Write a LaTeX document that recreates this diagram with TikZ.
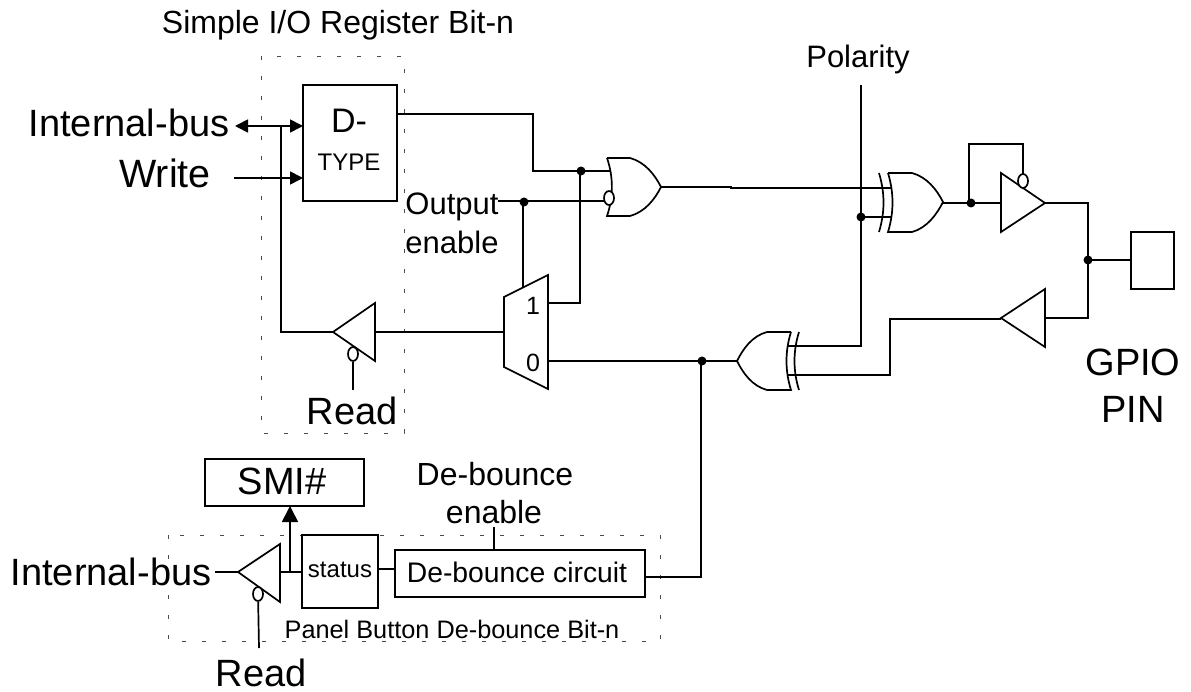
\documentclass[tikz,border=0pt]{standalone}
\usepackage{fontspec}
\setmainfont{Liberation Sans}
\usetikzlibrary{arrows.meta,shapes.geometric}
\tikzset{
 x=1pt,y=-1pt,
 wire/.style={line width=1.7pt,line join=miter},
 box/.style={draw,line width=1.7pt,inner sep=0pt,rectangle},
 dashbox/.style={draw=black!70,line width=0.9pt,dash pattern=on 4pt off 16pt},
 dotn/.style={circle,fill=black,inner sep=0pt,minimum size=9pt},
 bubble/.style={draw,fill=white,ellipse,line width=1.7pt,inner sep=0pt,minimum width=10pt,minimum height=14pt},
 txt/.style={inner sep=0pt,anchor=base},
 big/.style={txt,font=\fontsize{38}{38}\selectfont},
 mid/.style={txt,font=\fontsize{31}{39}\selectfont},
 small/.style={txt,font=\fontsize{24}{26}\selectfont},
 atip/.style={-{Triangle[length=13pt,width=13pt]}},
 atipb/.style={-{Triangle[length=16pt,width=16pt]}},
}
\begin{document}
\begin{tikzpicture}
\useasboundingbox (0,0) rectangle (1191,692);
% dashed boxes
\draw[dashbox] (261,56) rectangle (404,433);
\draw[dashbox] (168,535) rectangle (660,641);
% labels
\node[txt,font=\fontsize{32}{32}\selectfont] (ttl) at (338,34) {Simple I/O Register Bit-n};
\node[big] (ib1) at (129,137) {Internal-bus};
\node[txt,font=\fontsize{39.5}{39}\selectfont] (wr) at (165,188) {Write};
\node[mid] (pol) at (858,68) {Polarity};
\node[mid] (oe1) at (452,215) {Output};
\node[mid] (oe2) at (452,254) {enable};
\node[big] (rd1) at (352,424) {Read};
\node[big] (gp1) at (1133,376) {GPIO};
\node[big] (gp2) at (1133,422) {PIN};
\node[txt,font=\fontsize{32}{32}\selectfont] (db1) at (495,485) {De-bounce};
\node[txt,font=\fontsize{32}{32}\selectfont] (db2) at (494,523) {enable};
\node[big] (ib2) at (111,585) {Internal-bus};
\node[big] (rd2) at (261,686) {Read};
\node[txt,font=\fontsize{25.3}{26}\selectfont] (pb) at (452,638) {Panel Button De-bounce Bit-n};
% D-type
\draw[wire] (303,85) rectangle (397,201);
\coordinate (dl1) at (303,126); \coordinate (dl2) at (303,178); \coordinate (dr) at (397,114);
\node[txt,font=\fontsize{34}{34}\selectfont] (d) at (349,133) {D-};
\node[small] (ty) at (349,171) {TYPE};
% SMI, status, debounce, pin
\draw[wire] (205,459) rectangle (364,506);
\coordinate (smib) at (290,506);
\node[txt,font=\fontsize{38}{38}\selectfont] (smi) at (282,494) {SMI\#};
\draw[wire] (302,535) rectangle (378,608);
\node[small] (st) at (340,577) {status};
\draw[wire] (395,550) rectangle (645,597);
\node[txt,font=\fontsize{28.3}{28}\selectfont] (dbc) at (517,582) {De-bounce circuit};
\draw[wire] (1131,232) rectangle (1174,289);
\coordinate (pin) at (1131,260);
% mux
\draw[wire] (504,297) -- (548,275) -- (548,389) -- (504,367) -- cycle;
\node[txt,font=\fontsize{25}{26}\selectfont] (m1) at (533,315) {1};
\node[txt,font=\fontsize{25}{26}\selectfont] (m0) at (533,371) {0};
% Top OR gate
\draw[wire] (607,158) -- (630,158) .. controls (645,162) and (655,175) .. (661,187) .. controls (655,199) and (645,212) .. (630,216) -- (607,216) .. controls (613.5,197) and (613.5,177) .. (607,158);
% XOR 1
\draw[wire] (888,173) -- (912,173) .. controls (927,177) and (937,190) .. (943,202) .. controls (937,214) and (927,228) .. (912,232) -- (888,232) .. controls (894,212) and (894,193) .. (888,173);
\draw[wire] (879,173) .. controls (885,193) and (885,212) .. (879,232);
% XOR 2
\draw[wire] (791,332) -- (767,332) .. controls (752,336) and (743,349) .. (737,361) .. controls (743,373) and (752,386) .. (767,390) -- (791,390) .. controls (785,371) and (785,351) .. (791,332);
\draw[wire] (799,332) .. controls (793,351) and (793,371) .. (799,390);
% buffers
\draw[wire] (1001,173) -- (1045,203) -- (1001,232) -- cycle;
\draw[wire] (1045,289) -- (1001,318) -- (1045,347) -- cycle;
\draw[wire] (375,303) -- (333,332) -- (375,361) -- cycle;
\draw[wire] (280,544) -- (238,572) -- (280,602) -- cycle;
% wires top
\draw[wire,atip] (281,126) -- (dl1);
\draw[wire,atip] (281,126) -- (235,126);
\draw[wire,atip] (234,178) -- (dl2);
\draw[wire] (281,126) -- (281,332) -- (333,332);
\draw[wire] (dr) -- (533,114) -- (533,171) -- (611,171);
\draw[wire] (498,201) -- (604,201);
\draw[wire] (580,171) -- (580,303) -- (548,303);
\draw[wire] (523,201) -- (523,287);
\draw[wire] (661,187) -- (731,187) -- (731,188) -- (892,188);
\draw[wire] (375,332) -- (504,332);
\draw[wire] (548,361) -- (737,361);
\draw[wire] (701,361) -- (701,577) -- (645,577);
\draw[wire] (861,85) -- (861,346) -- (787,346);
\draw[wire] (861,217) -- (892,217);
\draw[wire] (943,203) -- (1001,203);
\draw[wire] (969,203) -- (969,144) -- (1023,144) -- (1023,174);
\draw[wire] (1045,203) -- (1088,203) -- (1088,318) -- (1045,318);
\draw[wire] (1088,260) -- (pin);
\draw[wire] (1001,319) -- (890,319) -- (890,375) -- (787,375);
\node[bubble] (b1) at (609,198) {};
\node[bubble] (b2) at (1023,181) {};
\node[bubble] (b3) at (353,354) {};
\node[bubble] (b4) at (258,594) {};
\draw[wire] (b3) -- (353,390);
\draw[wire] (b4) -- (259,648);
% bottom
\draw[wire] (215,572) -- (238,572);
\draw[wire] (280,572) -- (302,572);
\draw[wire,atipb] (290,572) -- (smib);
\draw[wire] (378,569) -- (395,569);
\draw[wire] (494,527) -- (494,550);
% dots
\foreach \n/\p in {d1/{581,171},d2/{524,202},d3/{861,217},d4/{971,203},d5/{1088,260},d6/{702,361}}{
 \node[dotn] (\n) at (\p) {};
}
\end{tikzpicture}
\end{document}
